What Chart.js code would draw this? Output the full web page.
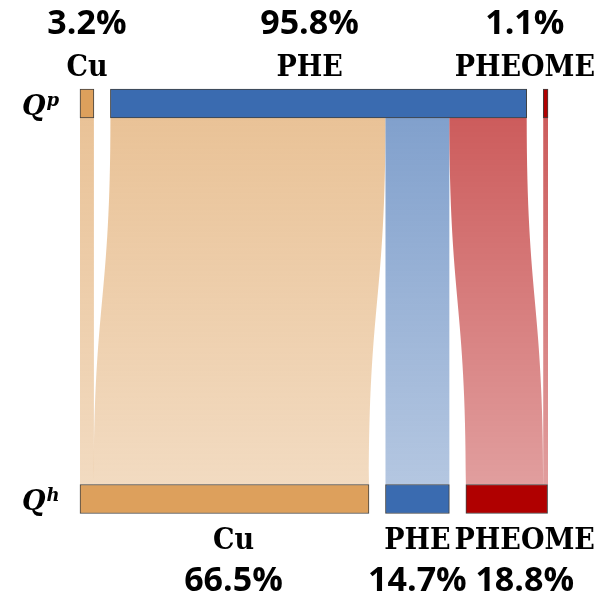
<!DOCTYPE html>
<html>
<head>
<meta charset="utf-8">
<script src="https://cdn.jsdelivr.net/npm/chart.js@4"></script>
<style>
  html, body { margin: 0; padding: 0; background: #fff; }
  #wrap { width: 600px; height: 601px; position: relative; }
</style>
</head>
<body>
<div id="wrap"><canvas id="flow-chart"></canvas></div>
<script>
// data
const nodeNames = ['Cu', 'PHE', 'PHEOME'];
const levelNames = ['p', 'h'];          // Q^p on top, Q^h at the bottom
const topShares = [3.2, 95.8, 1.1];
const bottomShares = [66.5, 14.7, 18.8];
const flowFrom = [0, 1, 1, 1, 2];
const flowTo = [0, 0, 1, 2, 2];
const flowValues = [3.2, 63.3, 14.7, 17.8, 1.1];

const nodeGap = 3.8;
const nodeColors = ['#DDA05C', '#3A6BB0', '#B00000'];
const topNudge = [0, -9, 0];
const bottomNudge = [9, 0, 18];

function spans(shares) {
    let acc = 0;
    return shares.map(v => {
        const s = [acc, acc + v];
        acc += v + nodeGap;
        return s;
    });
}

function rgba(hex, a) {
    const n = parseInt(hex.slice(1), 16);
    return 'rgba(' + (n >> 16) + ',' + ((n >> 8) & 255) + ',' + (n & 255) + ',' + a + ')';
}

const topSpans = spans(topShares);
const bottomSpans = spans(bottomShares);
const sum = a => a.reduce((s, v) => s + v, 0);
const xMax = Math.max(sum(topShares), sum(bottomShares)) + nodeGap * (nodeNames.length - 1);

// flows drawn under the bars
const flowPlugin = {
    id: 'flows',
    beforeDatasetsDraw(chart) {
        const ctx = chart.ctx;
        const xs = chart.scales.x;
        const topBar = chart.getDatasetMeta(0).data[0];
        const botBar = chart.getDatasetMeta(0).data[1];
        const yTop = topBar.y + topBar.height / 2;
        const yBot = botBar.y - botBar.height / 2;
        const ym = (yTop + yBot) / 2;
        const outAcc = topSpans.map(s => s[0]);
        const inAcc = bottomSpans.map(s => s[0]);

        ctx.save();
        flowValues.forEach((v, i) => {
            const a = flowFrom[i], b = flowTo[i];
            const x0s = xs.getPixelForValue(outAcc[a]);
            const x0e = xs.getPixelForValue(outAcc[a] + v);
            const x1s = xs.getPixelForValue(inAcc[b]);
            const x1e = xs.getPixelForValue(inAcc[b] + v);
            outAcc[a] += v;
            inAcc[b] += v;

            const grad = ctx.createLinearGradient(0, yTop, 0, yBot);
            grad.addColorStop(0, rgba(nodeColors[b], 0.64));
            grad.addColorStop(1, rgba(nodeColors[b], 0.38));

            ctx.beginPath();
            ctx.moveTo(x0s, yTop);
            ctx.bezierCurveTo(x0s, ym, x1s, ym, x1s, yBot);
            ctx.lineTo(x1e, yBot);
            ctx.bezierCurveTo(x1e, ym, x0e, ym, x0e, yTop);
            ctx.closePath();
            ctx.fillStyle = grad;
            ctx.fill();
        });
        ctx.restore();
    },
    afterDraw(chart) {
        const ctx = chart.ctx;
        const xs = chart.scales.x;
        const W = chart.width;
        const nameFont = 'bold 30px "DejaVu Serif Condensed", "DejaVu Serif", serif';
        const pctFont = 'bold 34px "Open Sans", sans-serif';

        ctx.save();
        ctx.fillStyle = '#000';
        ctx.textAlign = 'center';
        ctx.textBaseline = 'alphabetic';

        const rows = [
            { shares: topShares, spans: topSpans, nudge: topNudge, bar: 0 },
            { shares: bottomShares, spans: bottomSpans, nudge: bottomNudge, bar: 1 }
        ];
        rows.forEach(row => {
            row.shares.forEach((v, i) => {
                const el = chart.getDatasetMeta(i).data[row.bar];
                const name = nodeNames[i];
                const pct = v.toFixed(1) + '%';
                ctx.font = nameFont;
                const wName = ctx.measureText(name).width;
                ctx.font = pctFont;
                const wPct = ctx.measureText(pct).width;
                const half = Math.max(wName, wPct) / 2;
                let cx = (xs.getPixelForValue(row.spans[i][0]) + xs.getPixelForValue(row.spans[i][1])) / 2 + row.nudge[i];
                cx = Math.min(Math.max(cx, half + 5), W - half - 5);

                const barTop = el.y - el.height / 2;
                const barBottom = el.y + el.height / 2;
                if (row.bar === 0) {
                    ctx.font = pctFont;
                    ctx.fillText(pct, cx, barTop - 55);
                    ctx.font = nameFont;
                    ctx.fillText(name, cx, barTop - 13);
                } else {
                    ctx.font = nameFont;
                    ctx.fillText(name, cx, barBottom + 35);
                    ctx.font = pctFont;
                    ctx.fillText(pct, cx, barBottom + 77);
                }
            });
        });

        // Q^p / Q^h row labels
        ctx.textAlign = 'left';
        levelNames.forEach((s, j) => {
            const el = chart.getDatasetMeta(0).data[j];
            const base = el.y + 11;
            ctx.font = 'italic bold 27px "DejaVu Serif", serif';
            ctx.fillText('Q', 22, base);
            const w = ctx.measureText('Q').width;
            ctx.font = 'italic bold 18px "DejaVu Serif", serif';
            ctx.fillText(s, 22 + w + 1, base - 9);
        });
        ctx.restore();
    }
};

const datasets = nodeNames.map((name, i) => ({
    label: name,
    data: [topSpans[i], bottomSpans[i]],
    backgroundColor: nodeColors[i],
    borderColor: 'rgba(0,0,0,0.75)',
    borderWidth: 1,
    borderSkipped: false,
    barThickness: 29,
    grouped: false,
    clip: false
}));

new Chart(document.getElementById('flow-chart'), {
    type: 'bar',
    data: { labels: levelNames, datasets: datasets },
    options: {
        indexAxis: 'y',
        responsive: true,
        maintainAspectRatio: false,
        animation: false,
        layout: { padding: { left: 80, right: 52, top: 103.5, bottom: 102 } },
        scales: {
            x: { type: 'linear', min: 0, max: xMax, display: false },
            y: { type: 'category', offset: false, display: false, grid: { display: false } }
        },
        plugins: {
            legend: { display: false },
            tooltip: { enabled: false }
        }
    },
    plugins: [flowPlugin]
});
</script>
</body>
</html>
